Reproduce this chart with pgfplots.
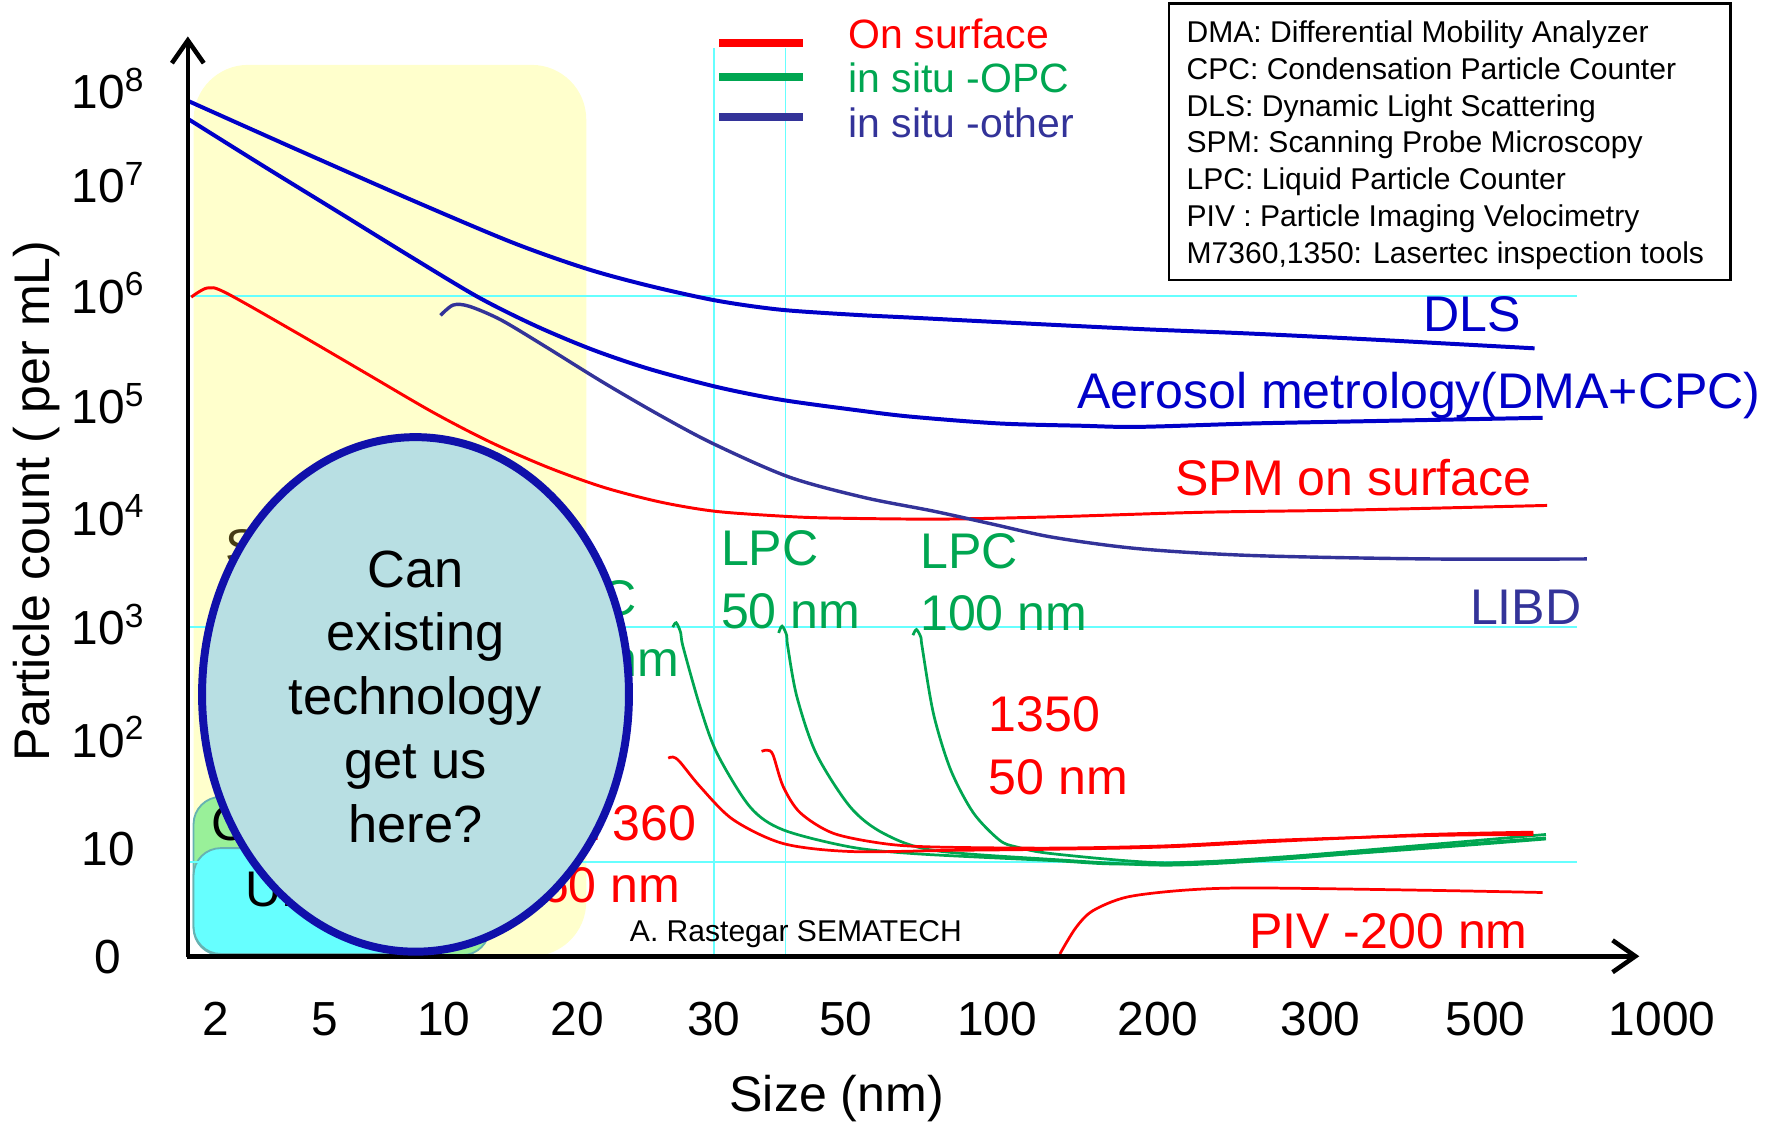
\documentclass[border=0pt]{standalone}
\usepackage{pgfplots}
\pgfplotsset{compat=1.18}
\usetikzlibrary{arrows.meta}
\usepackage{fontspec}
\setmainfont{Liberation Sans}

\definecolor{dlsblue}{RGB}{0,0,200}
\definecolor{navy}{RGB}{51,51,153}
\definecolor{optgreen}{RGB}{0,166,81}
\definecolor{gridcyan}{RGB}{102,255,255}
\definecolor{zoneyellow}{RGB}{255,255,204}
\definecolor{boxgreen}{RGB}{153,240,153}
\definecolor{boxcyan}{RGB}{102,255,255}
\definecolor{bubble}{RGB}{184,223,227}
\definecolor{bubbleedge}{RGB}{16,16,170}
\definecolor{olive}{RGB}{70,60,20}

\newcommand{\lab}{\fontsize{22pt}{26pt}\selectfont}
\newcommand{\leg}{\fontsize{18pt}{21pt}\selectfont}
\newcommand{\note}{\fontsize{13.2pt}{16pt}\selectfont}

\begin{document}
\begin{tikzpicture}
\begin{axis}[
  x=0.5pt, y=0.5pt,
  xmin=165, xmax=1470, ymin=150, ymax=960,
  axis line style={draw=none},
  tick style={draw=none},
  major tick length=0pt,
  clip=false,
  xtick={190,285,390,507,627,743,876,1017,1160,1305,1460},
  xticklabels={2,5,10,20,30,50,100,200,300,500,1000},
  ytick={150,245,340,439,535,633,730,827,910},
  yticklabels={0,10,10\textsuperscript{2},10\textsuperscript{3},10\textsuperscript{4},10\textsuperscript{5},10\textsuperscript{6},10\textsuperscript{7},10\textsuperscript{8}},
  ticklabel style={font=\fontsize{21pt}{24pt}\selectfont, inner sep=0pt},
  xticklabel style={anchor=base, yshift=-35pt},
  yticklabel style={anchor=base, xshift=-35pt, yshift=-7.5pt},
]
% page frame
\path (axis cs:0,0) rectangle (axis cs:1568,990);

% highlighted size range
\fill[zoneyellow, rounded corners=24pt] (axis cs:170,150) rectangle (axis cs:515,933);

% small technology boxes in the corner
\filldraw[fill=boxgreen, draw=teal!60, line width=0.8pt, rounded corners=12pt] (axis cs:170,151) rectangle (axis cs:430,290);
\filldraw[fill=boxcyan, draw=teal!60, line width=0.8pt, rounded corners=12pt] (axis cs:170,152) rectangle (axis cs:400,245);
\node[anchor=base west, inner sep=0, font=\lab] at (axis cs:185,252) {CPC};
\node[anchor=base west, inner sep=0, font=\lab] at (axis cs:215,194) {UPW};
\node[anchor=base west, inner sep=0, font=\lab, text=olive] at (axis cs:198,494) {SEM};

% reference grid lines
\draw[gridcyan, line width=0.8pt] (axis cs:165,730) -- (axis cs:1385,730);
\draw[gridcyan, line width=0.8pt] (axis cs:165,439) -- (axis cs:1385,439);
\draw[gridcyan, line width=0.8pt] (axis cs:165,233) -- (axis cs:1385,233);
\draw[gridcyan, line width=0.8pt] (axis cs:627,150) -- (axis cs:627,948);
\draw[gridcyan, line width=0.8pt] (axis cs:690,150) -- (axis cs:690,948);

% DLS
\addplot[dlsblue, line width=1.75pt, smooth] coordinates {
(166,901) (260,859) (360,815) (450,777) (515,754) (570,739) (629,726)
(685,718) (750,713.5) (800,711) (878,707) (1000,701) (1098,697) (1200,692)
(1348,684)};
% Aerosol metrology
\addplot[dlsblue, line width=1.75pt, smooth] coordinates {
(166,885) (230,845) (300,802) (360,765) (420,729) (470,704) (520,683)
(570,666) (630,650) (685,639) (750,630) (800,624) (878,618) (950,616)
(1000,615) (1100,618) (1200,620) (1355,623)};
% SPM on surface
\addplot[red, line width=1.3pt, smooth] coordinates {
(168,729) (182,737) (198,733) (260,698) (320,663) (380,628) (430,602)
(480,580) (530,562) (580,549) (627,541) (680,537) (726,535) (825,534)
(925,536) (1056,540) (1189,542) (1359,546)};
% LIBD
\addplot[navy, line width=1.5pt, smooth] coordinates {
(387,713) (398,722) (412,721) (440,709) (480,685) (530,654) (580,625)
(627,600) (693,571) (759,553) (820,541) (870,530) (925,518) (1000,508)
(1100,502) (1255,499) (1394,499)};
% in situ OPC (LPC) curves
\addplot[optgreen, line width=1.2pt, smooth] coordinates {
(591,439) (594,443) (598,434) (600,422) (615,369) (630,328) (659,281)
(688,261) (747,246) (805,240) (925,234) (991,231) (1123,236) (1255,245)
(1358,253)};
\addplot[optgreen, line width=1.2pt, smooth] coordinates {
(684,434) (687,440) (691,432) (692,422) (700,378) (717,328) (747,281)
(776,258) (820,243) (925,235) (1024,230) (1123,235) (1255,246) (1358,254)};
\addplot[optgreen, line width=1.2pt, smooth] coordinates {
(802,432) (805,437) (809,430) (810,422) (820,363) (835,314) (855,276)
(878,252) (893,246) (925,240) (1024,232) (1123,237) (1255,248) (1358,257)};
% Lasertec M7360 and M1350
\addplot[red, line width=1.2pt, smooth] coordinates {
(587,324) (591,325) (597,321) (615,299) (644,270) (688,249) (747,242)
(835,243) (925,244) (1024,246) (1123,251) (1255,257) (1347,259)};
\addplot[red, line width=1.2pt, smooth] coordinates {
(669,330) (674,331) (679,327) (688,299) (703,276) (732,258) (776,249)
(820,246) (925,245) (1024,247) (1123,252) (1255,256) (1347,257)};
% PIV
\addplot[red, line width=1.2pt, smooth] coordinates {
(931,152) (945,175) (960,190) (990,202) (1040,208) (1100,210) (1250,208)
(1355,206)};

% curve labels
\node[anchor=base west, inner sep=0, font=\lab, text=dlsblue] at (axis cs:1250,699) {DLS};
\node[anchor=base west, inner sep=0, font=\lab, text=dlsblue] at (axis cs:946,631) {Aerosol metrology(DMA+CPC)};
\node[anchor=base west, inner sep=0, font=\lab, text=red] at (axis cs:1032,555) {SPM on surface};
\node[anchor=base west, inner sep=0, font=\lab, text=navy] at (axis cs:1291,441) {LIBD};
\node[anchor=base west, inner sep=0, font=\lab, text=optgreen] at (axis cs:633,493) {LPC};
\node[anchor=base west, inner sep=0, font=\lab, text=optgreen] at (axis cs:633,438) {50 nm};
\node[anchor=base west, inner sep=0, font=\lab, text=optgreen] at (axis cs:808,491) {LPC};
\node[anchor=base west, inner sep=0, font=\lab, text=optgreen] at (axis cs:808,436) {100 nm};
\node[anchor=base west, inner sep=0, font=\lab, text=red] at (axis cs:868,347) {1350};
\node[anchor=base west, inner sep=0, font=\lab, text=red] at (axis cs:868,292) {50 nm};
\node[anchor=base west, inner sep=0, font=\lab, text=red] at (axis cs:1097,157) {PIV -200 nm};
\node[anchor=base east, inner sep=0, font=\lab, text=red] at (axis cs:612,252) {M7360};
\node[anchor=base east, inner sep=0, font=\lab, text=red] at (axis cs:598,197) {60 nm};
\node[anchor=base east, inner sep=0, font=\lab, text=optgreen] at (axis cs:560,449) {LPC};
\node[anchor=base east, inner sep=0, font=\lab, text=optgreen] at (axis cs:597,396) {20 nm};
\node[anchor=base west, inner sep=0, font=\note] at (axis cs:553,163) {A. Rastegar SEMATECH};

% axes with arrows
\draw[line width=2pt, -{Straight Barb[length=10pt, width=14pt]}] (axis cs:165,149) -- (axis cs:165,958);
\draw[line width=2pt, -{Straight Barb[length=10pt, width=14pt]}] (axis cs:164,150) -- (axis cs:1440,150);

% question bubble
\filldraw[fill=bubble, draw=bubbleedge, line width=3.5pt] (axis cs:365,380) ellipse [x radius=93.75pt, y radius=113pt];
\node[align=center, inner sep=0, font=\fontsize{23pt}{28pt}\selectfont] at (axis cs:365,378) {Can\\existing\\technology\\get us\\here?};

% axis titles
\node[rotate=90, inner sep=0, font=\lab] at (axis cs:32,550) {Particle count ( per mL)};
\node[inner sep=0, font=\lab] at (axis cs:735,25) {Size (nm)};

% legend
\draw[red, line width=3.5pt] (axis cs:632,952) -- (axis cs:705,952);
\draw[optgreen, line width=3.5pt] (axis cs:632,922) -- (axis cs:705,922);
\draw[navy, line width=3.5pt] (axis cs:632,887) -- (axis cs:705,887);
\node[anchor=west, inner sep=0, font=\leg, text=red] at (axis cs:745,960) {On surface};
\node[anchor=west, inner sep=0, font=\leg, text=optgreen] at (axis cs:745,922) {in situ -OPC};
\node[anchor=west, inner sep=0, font=\leg, text=navy] at (axis cs:745,882) {in situ -other};

% abbreviations
\draw[line width=1pt, fill=white] (axis cs:1027,744) rectangle (axis cs:1520,987);
\node[anchor=base west, inner sep=0, font=\note] at (axis cs:1042,952.5) {DMA: Differential Mobility Analyzer};
\node[anchor=base west, inner sep=0, font=\note] at (axis cs:1042,920.2) {CPC: Condensation Particle Counter};
\node[anchor=base west, inner sep=0, font=\note] at (axis cs:1042,887.9) {DLS: Dynamic Light Scattering};
\node[anchor=base west, inner sep=0, font=\note] at (axis cs:1042,855.6) {SPM: Scanning Probe Microscopy};
\node[anchor=base west, inner sep=0, font=\note] at (axis cs:1042,823.3) {LPC: Liquid Particle Counter};
\node[anchor=base west, inner sep=0, font=\note] at (axis cs:1042,791.0) {PIV : Particle Imaging Velocimetry};
\node[anchor=base west, inner sep=0, font=\note] at (axis cs:1042,758.7) {M7360,1350: Lasertec inspection tools};
\end{axis}
\end{tikzpicture}
\end{document}
